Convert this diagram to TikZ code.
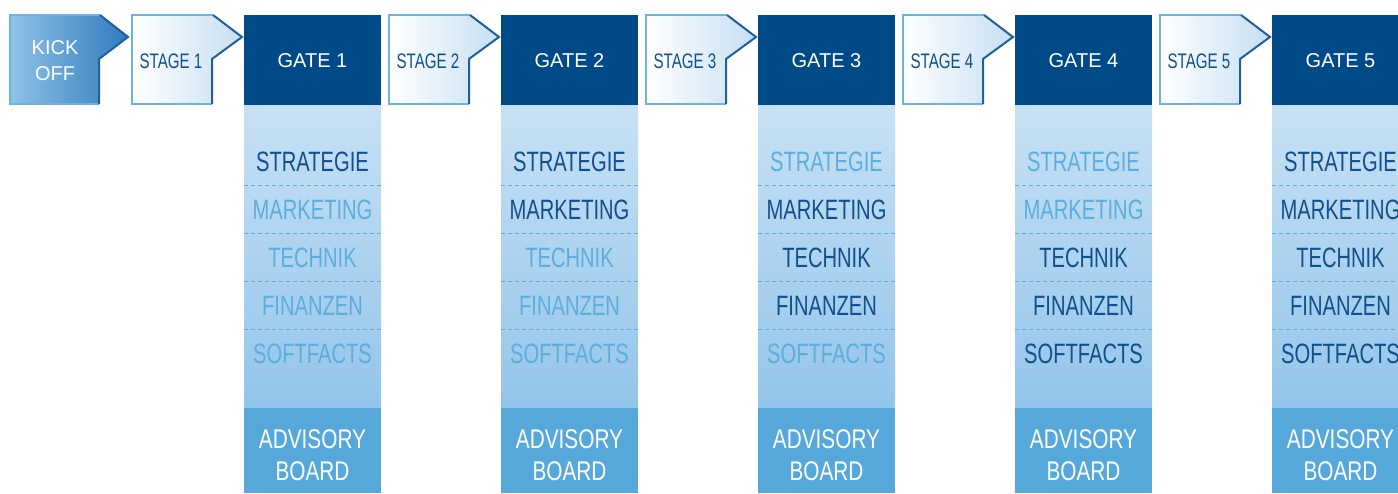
\documentclass[tikz,border=0pt]{standalone}
\usepackage{fontspec}
\newfontfamily\regfont{Liberation Sans}
\newfontfamily\condfont[FakeStretch=0.72]{Liberation Sans}
\newfontfamily\advfont[FakeStretch=0.77]{Liberation Sans}
\definecolor{navy}{HTML}{004B87}
\definecolor{dk}{HTML}{11508C}
\definecolor{lt}{HTML}{5BAEDD}
\definecolor{adv}{HTML}{56A8DA}
\definecolor{coltop}{HTML}{C7E1F4}
\definecolor{colbot}{HTML}{93C5EA}
\definecolor{bordlt}{HTML}{6CB4E0}
\definecolor{borddk}{HTML}{1F5F9A}
\definecolor{stagefill}{HTML}{C6DFF2}
\definecolor{kickl}{HTML}{8FC2E7}
\definecolor{kickr}{HTML}{2F7CBD}
\tikzset{
  gatetxt/.style={font=\regfont\fontsize{20}{24}\selectfont, text=white},
  stagetxt/.style={font=\condfont\fontsize{21}{24}\selectfont, text=dk},
  rowtxt/.style={font=\condfont\fontsize{28}{32}\selectfont},
  advtxt/.style={font=\advfont\fontsize{27}{32}\selectfont, text=white, align=center},
  kicktxt/.style={font=\regfont\fontsize{20}{26}\selectfont, text=white, align=center},
  sep/.style={draw=lt, line width=0.9pt, dash pattern=on 4pt off 3pt},
}
\begin{document}
\begin{tikzpicture}[x=1pt,y=-1pt]
\useasboundingbox (0,0) rectangle (1398,493);
\begin{scope}
\clip (0,0) rectangle (1398,493);
% kick off
\fill[left color=kickl, right color=kickr] (10,15)--(100,15)--(128,37)--(99,59)--(99,104)--(10,104)--cycle;
\draw[bordlt, line width=2pt] (100,15)--(10,15)--(10,104)--(99,104);
\draw[borddk, line width=2pt, line join=miter] (100,15)--(128,37)--(99,59)--(99,104);
\node[kicktxt] (kick) at (55,61) {KICK\\OFF};
% stages
\foreach \i/\x in {1/132,2/389,3/646,4/903,5/1160}{
  \fill[left color=white, right color=stagefill] (\x,15)--({\x+81},15)--({\x+110},37)--({\x+80},59)--({\x+80},104)--(\x,104)--cycle;
  \draw[bordlt, line width=2pt] ({\x+81},15)--(\x,15)--(\x,104)--({\x+80},104);
  \draw[borddk, line width=2pt] ({\x+81},15)--({\x+110},37)--({\x+80},59)--({\x+80},104);
  \node[stagetxt] (stage\i) at ({\x+39},61) {STAGE \i};
}
% gates
\foreach \i/\x/\a/\b/\c/\d/\e in {1/244/dk/lt/lt/lt/lt, 2/501/dk/dk/lt/lt/lt, 3/758/lt/dk/dk/dk/lt, 4/1015/lt/lt/dk/dk/dk, 5/1272/dk/dk/dk/dk/dk}{
  \fill[navy] (\x,15) rectangle ({\x+137},105);
  \fill[top color=coltop, bottom color=colbot] (\x,105) rectangle ({\x+137},408);
  \fill[adv] (\x,408) rectangle ({\x+137},493);
  \node[gatetxt] (gate\i) at ({\x+68.5},61) {GATE \i};
  \foreach \yy in {185,233,281,329}{
    \draw[sep] (\x,\yy) -- ({\x+137},\yy);
  }
  \node[rowtxt, text=\a] (str\i) at ({\x+68.5},162) {STRATEGIE};
  \node[rowtxt, text=\b] (mkt\i) at ({\x+68.5},210) {MARKETING};
  \node[rowtxt, text=\c] (tec\i) at ({\x+68.5},258) {TECHNIK};
  \node[rowtxt, text=\d] (fin\i) at ({\x+68.5},306) {FINANZEN};
  \node[rowtxt, text=\e] (sof\i) at ({\x+68.5},354) {SOFTFACTS};
  \node[advtxt] (adv\i) at ({\x+68.5},455) {ADVISORY\\BOARD};
}
\end{scope}
\end{tikzpicture}
\end{document}
